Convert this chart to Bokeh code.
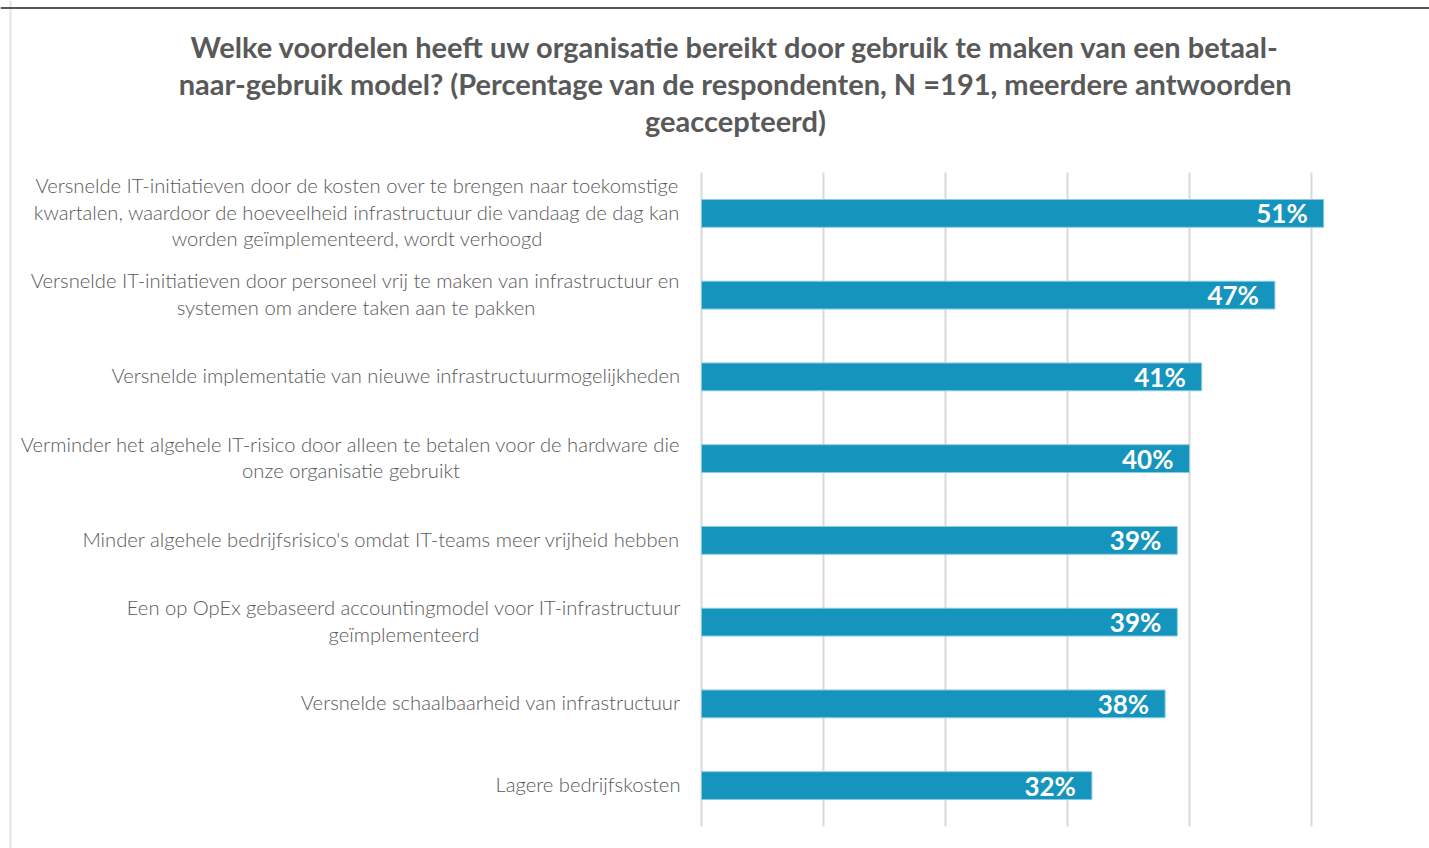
from bokeh.plotting import figure
from bokeh.models import ColumnDataSource, Range1d, Span
from bokeh.core.properties import value
from bokeh.embed import file_html
from bokeh.resources import INLINE

# ---- data ----
categories = [
    ["Versnelde IT-initiatieven door de kosten over te brengen naar toekomstige",
     "kwartalen, waardoor de hoeveelheid infrastructuur die vandaag de dag kan",
     "worden geïmplementeerd, wordt verhoogd"],
    ["Versnelde IT-initiatieven door personeel vrij te maken van infrastructuur en",
     "systemen om andere taken aan te pakken"],
    ["Versnelde implementatie van nieuwe infrastructuurmogelijkheden"],
    ["Verminder het algehele IT-risico door alleen te betalen voor de hardware die",
     "onze organisatie gebruikt"],
    ["Minder algehele bedrijfsrisico's omdat IT-teams meer vrijheid hebben"],
    ["Een op OpEx gebaseerd accountingmodel voor IT-infrastructuur",
     "geïmplementeerd"],
    ["Versnelde schaalbaarheid van infrastructuur"],
    ["Lagere bedrijfskosten"],
]
values = [51, 47, 41, 40, 39, 39, 38, 32]
value_labels = ["51%", "47%", "41%", "40%", "39%", "39%", "38%", "32%"]
grid_ticks = [0, 10, 20, 30, 40, 50]
title_lines = [
    "Welke voordelen heeft uw organisatie bereikt door gebruik te maken van een betaal-",
    "naar-gebruik model? (Percentage van de respondenten, N =191, meerdere antwoorden",
    "geaccepteerd)",
]

# ---- layout constants (pixels on the canvas) ----
W, H = 1429, 848
PLOT_L, PLOT_T, PLOT_B = 701, 172, 826
PX_PER_UNIT_X = 12.2
N = len(values)
PX_PER_UNIT_Y = (PLOT_B - PLOT_T) / N

def xd(px):  # canvas px -> data x
    return (px - PLOT_L) / PX_PER_UNIT_X

def yd(px):  # canvas px -> data y (flipped)
    return (px - PLOT_T) / PX_PER_UNIT_Y

p = figure(width=W, height=H, output_backend="svg", toolbar_location=None,
           x_range=Range1d(xd(0), xd(W)), y_range=Range1d(yd(H), yd(0)),
           x_axis_location=None, y_axis_location=None,
           min_border=0)
p.outline_line_color = None
p.grid.visible = False
p.background_fill_color = "white"
p.border_fill_color = "white"

# vertical grid lines over the category span
p.segment(x0=grid_ticks, x1=grid_ticks, y0=[0] * len(grid_ticks), y1=[N] * len(grid_ticks),
          line_color="#D9D9D9", line_width=2)

centers = [i + 0.5 for i in range(N)]
src = ColumnDataSource(dict(y=centers, right=values, lab=value_labels))
p.hbar(y="y", left=0, right="right", height=0.34, source=src,
       fill_color="#1594BD", line_color="#8ACBE1", line_width=1)
p.text(x="right", y="y", text="lab", source=src, x_offset=-16,
       text_align="right", text_baseline="middle",
       text_font=value("Lato"), text_font_style="bold",
       text_font_size="26px", text_color="white")

# category labels
LABEL_RIGHT = 680
LINE_H = 26.5
LABEL_SHIFT = -1.5
block_widths = [646, 649, None, 659, None, 553, None, None]
lx, ly, lt, la = [], [], [], []
for i, lines in enumerate(categories):
    n = len(lines)
    for j, line in enumerate(lines):
        ly.append(centers[i] + ((j - (n - 1) / 2) * LINE_H + LABEL_SHIFT) / PX_PER_UNIT_Y)
        lt.append(line)
        if n == 1:
            lx.append(xd(LABEL_RIGHT)); la.append("right")
        else:
            lx.append(xd(LABEL_RIGHT - block_widths[i] / 2)); la.append("center")
p.text(x="x", y="y", text="t", text_align="a", source=ColumnDataSource(dict(x=lx, y=ly, t=lt, a=la)),
       text_baseline="middle", text_font=value("Lato Light"),
       text_font_size="20.2px", text_color="#595959")

# title
tsrc = ColumnDataSource(dict(x=[xd(735)] * 3, y=[yd(46 + 37 * k) for k in range(3)], t=title_lines))
p.text(x="x", y="y", text="t", source=tsrc, text_align="center", text_baseline="middle",
       text_font=value("Lato"), text_font_style="bold",
       text_font_size="29px", text_color="#595959")

# card borders
p.add_layout(Span(location=xd(10), dimension="height", line_color="#E3E3E3", line_width=2))
p.add_layout(Span(location=yd(7.5), dimension="width", line_color="#222222", line_width=1.5))

open("out.html", "w").write(file_html(p, INLINE))
